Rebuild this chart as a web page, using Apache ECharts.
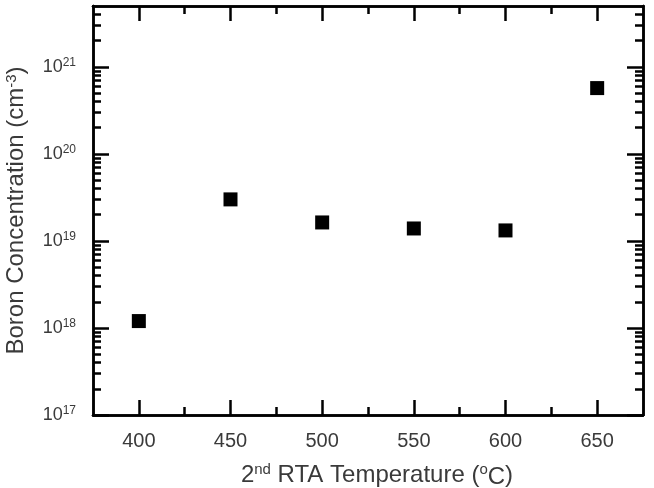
<!DOCTYPE html>
<html>
<head>
<meta charset="utf-8">
<script src="https://cdn.jsdelivr.net/npm/echarts@6/dist/echarts.min.js"></script>
<style>
  html, body { margin: 0; padding: 0; background: #fff; }
  #chart { width: 654px; height: 488px; }
</style>
</head>
<body>
<div id="chart"></div>
<script>
// 数据
var temps = [400, 450, 500, 550, 600, 650];
var boron = [1.2e18, 3.0e19, 1.63e19, 1.39e19, 1.32e19, 5.7e20];

var xMajorTicks = [400, 450, 500, 550, 600, 650];
var xMinorTicks = [425, 475, 525, 575, 625];
var yMajorTicks = [1e17, 1e18, 1e19, 1e20, 1e21];

// 对数坐标的次刻度 2..9 x 10^n
var yMinorTicks = [];
for (var d = 17; d <= 21; d++) {
    for (var k = 2; k <= 9; k++) {
        var v = k * Math.pow(10, d);
        if (v < 5e21) yMinorTicks.push(v);
    }
}

var textColor = '#3a3a3a';
var font = 'Arial, "Liberation Sans", sans-serif';
var lineStyle = { color: '#000', width: 2.5 };

function xAxisOf(pos, ticks, len, showLabel) {
    return {
        type: 'value',
        position: pos,
        min: 375,
        max: 675,
        axisLine: { show: true, lineStyle: lineStyle },
        axisTick: { show: true, inside: true, length: len, customValues: ticks, lineStyle: lineStyle },
        axisLabel: {
            show: showLabel,
            customValues: ticks,
            margin: 16,
            color: textColor,
            fontSize: 20,
            fontFamily: font
        },
        splitLine: { show: false }
    };
}

function yAxisOf(pos, ticks, len, showLabel) {
    return {
        type: 'log',
        logBase: 10,
        position: pos,
        min: 1e17,
        max: 5e21,
        axisLine: { show: true, lineStyle: lineStyle },
        axisTick: { show: true, inside: true, length: len, customValues: ticks, lineStyle: lineStyle },
        axisLabel: {
            show: showLabel,
            customValues: ticks,
            margin: 17,
            color: textColor,
            fontFamily: font,
            formatter: function (val) {
                return '{b|10}{s|' + Math.round(Math.log10(val)) + '}';
            },
            rich: {
                b: { fontSize: 18, color: textColor, fontFamily: font },
                s: { fontSize: 12, color: textColor, fontFamily: font, padding: [0, 0, 8, 0] }
            }
        },
        splitLine: { show: false },
        minorTick: { show: false }
    };
}

var myChart = echarts.init(document.getElementById('chart'));

var xBottom = xAxisOf('bottom', xMajorTicks, 15, true);
xBottom.name = '2{s|nd} RTA Temperature ({s|o}{c|C})';
xBottom.nameLocation = 'middle';
xBottom.nameGap = 46;
xBottom.nameTextStyle = {
    color: textColor, fontSize: 24, fontFamily: font,
    padding: [0, 0, 0, 18],
    rich: {
        s: { fontSize: 15, color: textColor, fontFamily: font, padding: [0, 0, 10, 0] },
        c: { fontSize: 24, color: textColor, fontFamily: font, padding: [4, 0, 0, 0] }
    }
};

var yLeft = yAxisOf('left', yMajorTicks, 16, true);
yLeft.name = 'Boron Concentration (cm{s|-3})';
yLeft.nameLocation = 'middle';
yLeft.nameGap = 64;
yLeft.nameTextStyle = {
    color: textColor, fontSize: 24, fontFamily: font,
    rich: {
        s: { fontSize: 15, color: textColor, fontFamily: font, padding: [0, 0, 10, 0] }
    }
};

var option = {
    backgroundColor: '#fff',
    animation: false,
    grid: { left: 93, right: 11, top: 6, bottom: 73, outerBoundsMode: 'none', containLabel: false },
    xAxis: [
        xBottom,
        xAxisOf('bottom', xMinorTicks, 8, false),
        xAxisOf('top', xMajorTicks, 15, false),
        xAxisOf('top', xMinorTicks, 8, false)
    ],
    yAxis: [
        yLeft,
        yAxisOf('left', yMinorTicks, 8, false),
        yAxisOf('right', yMajorTicks, 16, false),
        yAxisOf('right', yMinorTicks, 8, false)
    ],
    series: [
        {
            type: 'scatter',
            xAxisIndex: 0,
            yAxisIndex: 0,
            symbol: 'rect',
            symbolSize: 14,
            itemStyle: { color: '#000', opacity: 1 },
            data: temps.map(function (t, i) { return [t, boron[i]]; })
        }
    ]
};

myChart.setOption(option);
</script>
</body>
</html>
